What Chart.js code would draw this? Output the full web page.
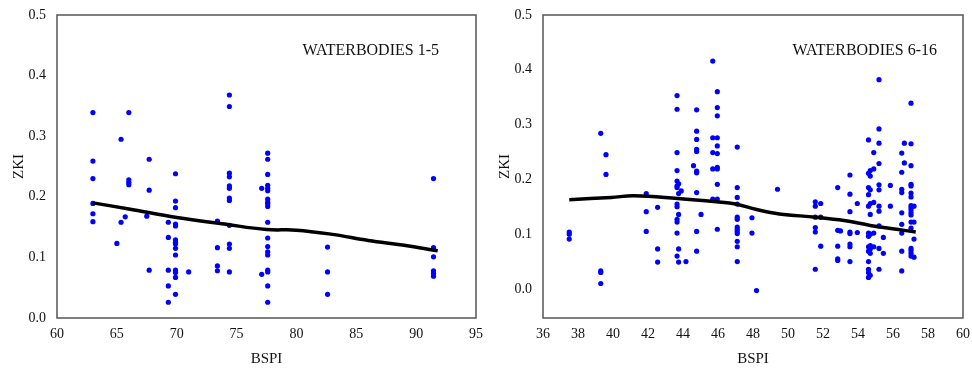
<!DOCTYPE html>
<html>
<head>
<meta charset="utf-8">
<script src="https://cdn.jsdelivr.net/npm/chart.js@4/dist/chart.umd.min.js"></script>
<style>
  html, body { margin: 0; padding: 0; background: #fff; }
  #wrap { position: relative; width: 972px; height: 374px; }
  .box { position: absolute; top: 0; width: 486px; height: 374px; }
</style>
</head>
<body>
<div id="wrap">
  <div class="box" style="left:0"><canvas id="left"></canvas></div>
  <div class="box" style="left:486px"><canvas id="right"></canvas></div>
</div>
<script>
// waterbodies 1-5 : BSPI vs ZKI
const wb1X = [63,63,63,63,63,63, 65,65.35,65.35,65.7, 66,66,66,66, 67.5,67.7,67.7,67.7,
  69.3,69.3,69.3,69.3,69.3,
  69.9,69.9,69.9,69.9,69.9,69.9,69.9,69.9,69.9,69.9,69.9,69.9,69.9,69.9,
  71, 73.4,73.4,73.4,73.4,
  74.4,74.4,74.4,74.4,74.4,74.4,74.4,74.4,74.4,74.4,74.4,74.4,
  77.1,77.1,
  77.6,77.6,77.6,77.6,77.6,77.6,77.6,77.6,77.6,77.6,77.6,77.6,77.6,77.6,77.6,77.6,77.6,77.6,77.6,
  82.6,82.6,82.6,
  91.45,91.45,91.45,91.45,91.45,91.45];
const wb1Y = [0.339,0.259,0.230,0.189,0.172,0.159, 0.123,0.295,0.158,0.167, 0.339,0.228,0.224,0.220, 0.168,0.262,0.211,0.079,
  0.158,0.133,0.079,0.053,0.026,
  0.238,0.193,0.182,0.155,0.152,0.129,0.125,0.122,0.115,0.104,0.079,0.075,0.067,0.039,
  0.076, 0.160,0.116,0.086,0.078,
  0.368,0.349,0.239,0.233,0.218,0.214,0.198,0.194,0.153,0.122,0.115,0.076,
  0.214,0.072,
  0.272,0.262,0.237,0.219,0.214,0.210,0.196,0.191,0.188,0.184,0.158,0.132,0.118,0.109,0.104,0.079,0.076,0.053,0.026,
  0.117,0.076,0.039,
  0.230,0.116,0.101,0.078,0.074,0.069];
const wb1FitX = [63, 66, 70, 74, 77.5, 80, 83, 86, 89, 91.8];
const wb1FitY = [0.190, 0.180, 0.166, 0.155, 0.146, 0.145, 0.138, 0.128, 0.120, 0.111];
const wb1Ticks = [60, 65, 70, 75, 80, 85, 90, 95];

// waterbodies 6-16
const wb2X = [37.5,37.5,37.5, 39.3,39.3,39.3,39.3, 39.6,39.6, 41.9,41.9,41.9, 42.55,42.55,42.55,
  43.66,43.66,43.66,43.66,43.66,43.66,43.66,43.66,43.66,43.66,43.66,43.66,43.66,
  43.75,43.75,43.75,43.75,43.75, 43.9, 44.17, 44.6,
  44.78,44.78,44.78,44.78,44.78,44.78,44.78,44.78,44.78,44.78, 45.03,
  45.7,45.7,45.7,45.7,45.7,
  45.96,45.96,45.96,45.96,45.96,45.96,45.96,45.96,45.96,45.96,45.96,
  47.1,47.1,47.1,47.1,47.1,47.1,47.1,47.1,47.1,47.1,47.1,47.1,47.1,
  47.94,47.94, 48.2, 49.4,
  51.56,51.56,51.56,51.56,51.56,51.56, 51.87,51.87,51.87,
  52.84,52.84,52.84,52.84,52.84, 53.0,
  53.54,53.54,53.54,53.54,53.54,53.54,53.54,53.54, 53.96,53.96,
  54.6,54.7,54.6,54.7,54.6,54.7,54.6,54.7,54.6,54.7,54.6,54.7,54.6,54.7,54.6,54.7,54.6,54.7,54.6,54.6,54.6,54.7,54.6,
  54.9,54.9,54.9,54.9,54.9,
  55.2,55.2,55.2,55.2,55.2,55.2,55.2,55.2,55.2,55.2,55.2, 55.45,55.45, 55.85,55.85,
  56.5,56.5,56.5,56.5,56.5,56.5,56.5,56.5,56.5, 56.65,56.65,
  57.03,57.03,57.03,57.03,57.03,57.03,57.03,57.03,57.03,57.03,57.03,57.03,57.03,57.03,57.03,57.03,57.03,57.03,
  57.2,57.2,57.2,57.2];
const wb2Y = [0.104,0.100,0.091, 0.284,0.033,0.030,0.010, 0.245,0.209, 0.174,0.141,0.105, 0.149,0.073,0.049,
  0.353,0.328,0.249,0.216,0.197,0.188,0.185,0.155,0.150,0.127,0.122,0.102,0.060,
  0.192,0.174,0.136,0.073,0.049, 0.179, 0.050, 0.225,
  0.327,0.288,0.273,0.255,0.251,0.215,0.212,0.176,0.105,0.069, 0.136,
  0.416,0.276,0.249,0.219,0.164,
  0.360,0.331,0.316,0.276,0.261,0.247,0.222,0.219,0.191,0.164,0.109,
  0.259,0.185,0.167,0.155,0.131,0.127,0.113,0.109,0.105,0.101,0.087,0.077,0.050,
  0.130,0.102, -0.003, 0.182,
  0.159,0.151,0.131,0.112,0.104,0.036, 0.156,0.131,0.078,
  0.185,0.107,0.078,0.055,0.052, 0.106,
  0.208,0.173,0.141,0.104,0.101,0.082,0.077,0.050, 0.156,0.103,
  0.272,0.216,0.211,0.206,0.185,0.181,0.172,0.156,0.151,0.136,0.102,0.100,0.096,0.079,0.077,0.073,0.069,0.065,0.050,0.036,0.030,0.025,0.021,
  0.249,0.219,0.158,0.102,0.077,
  0.382,0.292,0.266,0.229,0.190,0.181,0.151,0.142,0.115,0.074,0.036, 0.094,0.065, 0.189,0.151,
  0.248,0.213,0.182,0.176,0.139,0.118,0.102,0.069,0.033, 0.266,0.230,
  0.339,0.265,0.225,0.191,0.188,0.175,0.168,0.152,0.148,0.144,0.139,0.135,0.122,0.111,0.074,0.070,0.065,0.060,
  0.151,0.122,0.091,0.058];
const wb2FitX = [37.5, 39.9, 41.2, 43.7, 45.9, 47.0, 48.2, 49.5, 51.6, 53.2, 54.7, 56.2, 57.3];
const wb2FitY = [0.163, 0.167, 0.170, 0.165, 0.159, 0.155, 0.145, 0.137, 0.131, 0.125, 0.116, 0.109, 0.104];
const wb2Ticks = [36, 38, 40, 42, 44, 46, 48, 50, 52, 54, 56, 58, 60];
const zkiTicks = [0, 0.1, 0.2, 0.3, 0.4, 0.5];

const serif = '"Liberation Serif", "Times New Roman", serif';

const toPts = (xs, ys) => xs.map((x, i) => ({x: x, y: ys[i]}));

// frame + label inside the plot
const frame = {
  id: 'frame',
  afterDraw(chart, args, opts) {
    const a = chart.chartArea, c = chart.ctx;
    c.save();
    c.strokeStyle = '#555';
    c.lineWidth = 1.5;
    c.strokeRect(a.left, a.top, a.right - a.left, a.bottom - a.top);
    c.fillStyle = '#111';
    c.font = '16px ' + serif;
    c.textAlign = 'right';
    c.textBaseline = 'alphabetic';
    c.fillText(opts.label, a.right - opts.dx, 55);
    c.restore();
  }
};

function makeChart(id, xs, ys, fx, fy, xticks, xmin, xmax, ymin, label, pad, dx) {
  new Chart(document.getElementById(id), {
    type: 'scatter',
    data: {
      datasets: [
        {
          type: 'line', data: toPts(fx, fy), borderColor: '#000', borderWidth: 3.5,
          pointRadius: 0, tension: 0.4, fill: false
        },
        {
          data: toPts(xs, ys), backgroundColor: '#0000ff', borderWidth: 0,
          pointRadius: 2.6
        }
      ]
    },
    options: {
      responsive: false, animation: false,
      layout: {padding: pad},
      plugins: {legend: {display: false}, tooltip: {enabled: false}, frame: {label: label, dx: dx}},
      scales: {
        x: {
          type: 'linear', min: xmin, max: xmax,
          grid: {display: false, drawTicks: false}, border: {display: false},
          afterBuildTicks: s => { s.ticks = xticks.map(v => ({value: v})); },
          afterFit: s => { s.height = 56; s.paddingLeft = 0; s.paddingRight = 0; },
          ticks: {padding: 8, color: '#111', font: {family: serif, size: 14}, maxRotation: 0, autoSkip: false},
          title: {display: true, text: 'BSPI', color: '#111', font: {family: serif, size: 15}, padding: {top: 0, bottom: 6}}
        },
        y: {
          min: ymin, max: 0.5,
          grid: {display: false, drawTicks: false}, border: {display: false},
          afterBuildTicks: s => { s.ticks = zkiTicks.map(v => ({value: v})); },
          afterFit: s => { s.width = 57; s.paddingTop = 0; s.paddingBottom = 0; },
          ticks: {padding: 11, color: '#111', font: {family: serif, size: 14}, callback: v => v.toFixed(1)},
          title: {display: true, text: 'ZKI', color: '#111', font: {family: serif, size: 15}, padding: {top: 10, bottom: 0}}
        }
      }
    },
    plugins: [frame]
  });
}

document.getElementById('left').width = 486;
document.getElementById('left').height = 374;
document.getElementById('right').width = 486;
document.getElementById('right').height = 374;

makeChart('left', wb1X, wb1Y, wb1FitX, wb1FitY, wb1Ticks, 60, 95, 0,
  'WATERBODIES 1-5', {top: 15, right: 10, left: 0, bottom: 0}, 37);
makeChart('right', wb2X, wb2Y, wb2FitX, wb2FitY, wb2Ticks, 36, 60, -0.053,
  'WATERBODIES 6-16', {top: 15, right: 9, left: 0, bottom: 0}, 26);
</script>
</body>
</html>
